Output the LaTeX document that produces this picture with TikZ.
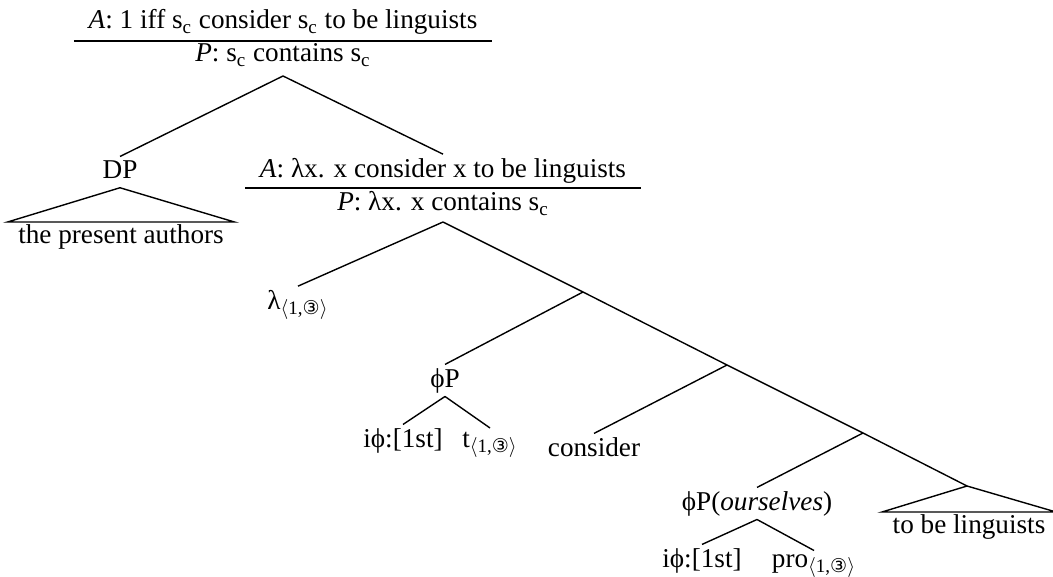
\documentclass[tikz,border=0pt]{standalone}
\usepackage{fontspec}
\setmainfont{Liberation Serif}
\newfontfamily\circfont{DejaVu Sans}
\newcommand{\sbc}{\textsubscript{c}}
\newcommand{\idx}{\textsubscript{$\langle$1,{\circfont ③}$\rangle$}}

\begin{document}
\begin{tikzpicture}[x=0.5pt,y=-0.5pt,line width=0.7pt,
    every node/.style={font=\fontsize{13.6}{16}\selectfont,inner sep=1.5pt,anchor=base},
    sem/.style={inner xsep=7pt},
    tri/.style={anchor=north,inner xsep=5pt,inner ysep=1pt}]
  \useasboundingbox (0,0) rectangle (1053,577);
  % top of the tree
  \node[sem] (rootA) at (283,29) {\textit{A}: 1 iff s\sbc{} consider s\sbc{} to be linguists};
  \draw ([yshift=-6pt]rootA.base west) -- ([yshift=-6pt]rootA.base east);
  \node (rootP) at (283,62) {\textit{P}: s\sbc{} contains s\sbc};
  \coordinate (r) at (283,76);
  \node (dp) at (120,178) {DP};
  \node[tri] (authors) at (121,222) {the present authors};
  \node[sem] (lamA) at (443,177) {\textit{A}: λx. x consider x to be linguists};
  \draw ([yshift=-5.5pt]lamA.base west) -- ([yshift=-5.5pt]lamA.base east);
  \node (lamP) at (443,211) {\textit{P}: λx. x contains s\sbc};
  \coordinate (l) at (443,222);
  \draw (r) -- (dp.north);
  \draw (r) -- (lamA.north);
  \draw ([yshift=-3pt]dp.south) -- (authors.north west) -- (authors.north east) -- cycle;
  % spine
  \coordinate (n1) at (583,292);
  \coordinate (n2) at (727,365);
  \coordinate (n3) at (863,433);
  \coordinate (n4) at (967,486);
  \draw (l) -- (n1) -- (n2) -- (n3) -- (n4);
  \node (lam) at (298,309) {λ\idx};
  \draw (l) -- (lam.north);
  \node (phiP) at (445,387) {ϕP};
  \node (ip1) at (403,447) {iϕ:[1st]};
  \node (t1) at (490,447) {t\idx};
  \draw (n1) -- (phiP.north);
  \draw (phiP.south) -- (ip1.north);
  \draw (phiP.south) -- (t1.north);
  \node (cons) at (594,456) {consider};
  \draw (n2) -- (cons.north);
  \node (phiPo) at (757,510) {ϕP(\textit{ourselves})};
  \node (ip2) at (702,567) {iϕ:[1st]};
  \node (pro) at (814,567) {pro\idx};
  \draw (n3) -- (phiPo.north);
  \draw (phiPo.south) -- (ip2.north);
  \draw (phiPo.south) -- (pro.north);
  \node[tri] (tobe) at (969,512) {to be linguists};
  \draw (n4) -- (tobe.north west) -- (tobe.north east) -- cycle;
\end{tikzpicture}
\end{document}
